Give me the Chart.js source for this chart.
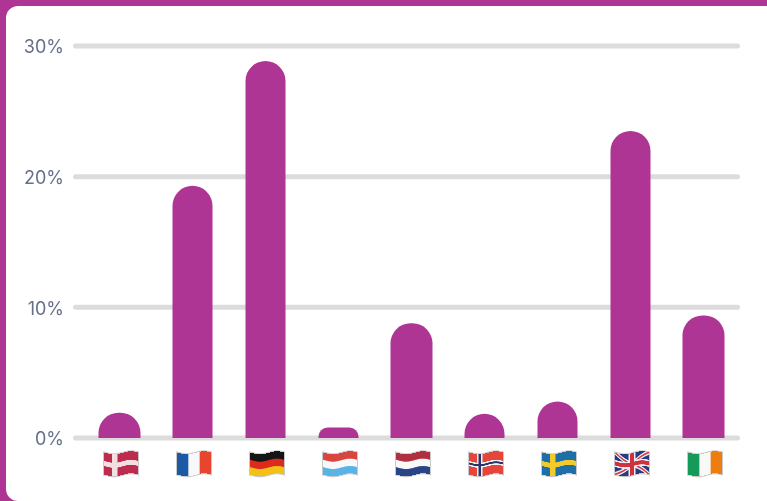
<!DOCTYPE html>
<html>
<head>
<meta charset="utf-8">
<style>
  html, body { margin: 0; padding: 0; width: 767px; height: 501px; overflow: hidden; background: #af3594; }
  #card { position: absolute; left: 6px; top: 6px; width: 761px; height: 495px; background: #fff; border-radius: 12px 0 0 12px; }
  #wrap { position: absolute; left: 0; top: 0; width: 767px; height: 501px; }
</style>
<script src="https://cdn.jsdelivr.net/npm/chart.js@4/dist/chart.umd.min.js"></script>
</head>
<body>
<div id="card"></div>
<div id="wrap"><canvas id="chart" width="767" height="501"></canvas></div>
<script>
const countries = ["Denmark", "France", "Germany", "Luxembourg", "Netherlands", "Norway", "Sweden", "United Kingdom", "Ireland"];
const shares = [1.85, 19.3, 28.85, 0.8, 8.7, 1.85, 2.8, 23.5, 9.3];
const yTicks = [0, 10, 20, 30];

// flat artwork for each flag, on a 68x44 box
function stripesH(g, colors) {
    colors.forEach((c, i) => {
        g.fillStyle = c;
        g.fillRect(0, i * 44 / colors.length, 68, 44 / colors.length + 1);
    });
}
function stripesV(g, colors) {
    colors.forEach((c, i) => {
        g.fillStyle = c;
        g.fillRect(i * 68 / colors.length, 0, 68 / colors.length + 1, 44);
    });
}
function nordic(g, bg, outer, inner) {
    g.fillStyle = bg;
    g.fillRect(0, 0, 68, 44);
    g.fillStyle = outer;
    g.fillRect(16, 0, 11, 44);
    g.fillRect(0, 17, 68, 10);
    if (inner) {
        g.fillStyle = inner;
        g.fillRect(19, 0, 5, 44);
        g.fillRect(0, 20, 68, 4);
    }
}
function union(g) {
    g.fillStyle = "#2b3a80";
    g.fillRect(0, 0, 68, 44);
    g.strokeStyle = "#eee";
    g.lineWidth = 8;
    g.beginPath(); g.moveTo(0, 0); g.lineTo(68, 44); g.moveTo(68, 0); g.lineTo(0, 44); g.stroke();
    g.strokeStyle = "#d23a4a";
    g.lineWidth = 3;
    g.stroke();
    g.fillStyle = "#eee";
    g.fillRect(27, 0, 14, 44);
    g.fillRect(0, 15, 68, 14);
    g.fillStyle = "#d0303f";
    g.fillRect(30, 0, 8, 44);
    g.fillRect(0, 18, 68, 8);
}
const flagArt = [
    g => nordic(g, "#bd2c4e", "#f3dfe0"),
    g => stripesV(g, ["#1c5aa5", "#f8f8fa", "#e8452f"]),
    g => stripesH(g, ["#151515", "#dc2a1c", "#f2c017"]),
    g => stripesH(g, ["#d9453f", "#f8f8f8", "#58b4e6"]),
    g => stripesH(g, ["#b0303f", "#f8f8f8", "#2a4488"]),
    g => nordic(g, "#e6463a", "#f2f2f2", "#25366e"),
    g => nordic(g, "#1e6ea8", "#f2cb2a"),
    union,
    g => stripesV(g, ["#169a5a", "#f8f8f8", "#ee7d11"])
];

function flagWave(t) {
    return 1.8 + 1.5 * Math.cos(2 * Math.PI * (t - 0.28));
}

// bend the flat artwork column by column, then blur it once as a whole
function drawFlag(ctx, art, cx, top) {
    const W = 34, H = 22, S = 2, M = 3;
    const flat = document.createElement("canvas");
    flat.width = W * S;
    flat.height = H * S;
    art(flat.getContext("2d"));
    const bent = document.createElement("canvas");
    bent.width = W + M * 2;
    bent.height = H + 4 + M * 2;
    const b = bent.getContext("2d");
    b.fillStyle = "rgba(120,120,120,0.4)";
    for (let x = -1; x <= W; x++) {
        const t = Math.min(1, Math.max(0, x / W));
        b.fillRect(M + x, M + flagWave(t) - 1, 1, H + 2);
    }
    for (let x = 0; x < W; x++) {
        b.drawImage(flat, x * S, 0, S, H * S, M + x, M + flagWave(x / W), 1, H);
    }
    ctx.save();
    ctx.filter = "blur(0.6px)";
    ctx.drawImage(bent, cx - W / 2 - M, top - M);
    ctx.restore();
}

const roundGrid = {
    id: "roundGrid",
    beforeDatasetsDraw(chart) {
        const { ctx, scales: { y } } = chart;
        ctx.save();
        ctx.strokeStyle = "#dcdcdc";
        ctx.lineWidth = 5;
        ctx.lineCap = "round";
        y.ticks.forEach((tick, i) => {
            const py = y.getPixelForTick(i);
            ctx.beginPath();
            ctx.moveTo(75.5, py);
            ctx.lineTo(737.5, py);
            ctx.stroke();
        });
        ctx.restore();
    }
};

const flagTicks = {
    id: "flagTicks",
    afterDatasetsDraw(chart) {
        const { ctx, scales: { x } } = chart;
        flagArt.forEach((art, i) => {
            drawFlag(ctx, art, x.getPixelForValue(i) + 1.5, 451);
        });
    }
};

new Chart(document.getElementById("chart"), {
    type: "bar",
    data: {
        labels: countries,
        datasets: [
            {
                data: shares,
                backgroundColor: "#af3594",
                // bars start below the axis and get clipped there, so short ones keep their full round top
                base: -4,
                clip: 0,
                borderRadius: (ctx) => (ctx.dataIndex === 3 ? 9 : 21),
                barThickness: 40,
                inflateAmount: (ctx) => ([0, 4, 8].includes(ctx.dataIndex) ? 1 : 0),
            },
        ],
    },
    plugins: [roundGrid, flagTicks],
    options: {
        responsive: false,
        animation: false,
        layout: {
            autoPadding: false,
            padding: { top: 46, right: 27, left: 0, bottom: 0 },
        },
        plugins: {
            legend: { display: false },
            tooltip: { enabled: false },
        },
        scales: {
            x: {
                grid: { display: false },
                border: { display: false },
                ticks: { display: false },
                afterFit: (scale) => { scale.height = 63; },
            },
            y: {
                min: 0,
                max: 30,
                afterBuildTicks: (scale) => { scale.ticks = yTicks.map((value) => ({ value })); },
                grid: { display: false, drawTicks: false },
                border: { display: false },
                ticks: {
                    padding: 19,
                    labelOffset: 2,
                    color: "#667089",
                    font: { family: "Inter", size: 18 },
                    callback: (value) => `${value}%`,
                },
                afterFit: (scale) => { scale.width = 83; },
            },
        },
    },
});
</script>
</body>
</html>
